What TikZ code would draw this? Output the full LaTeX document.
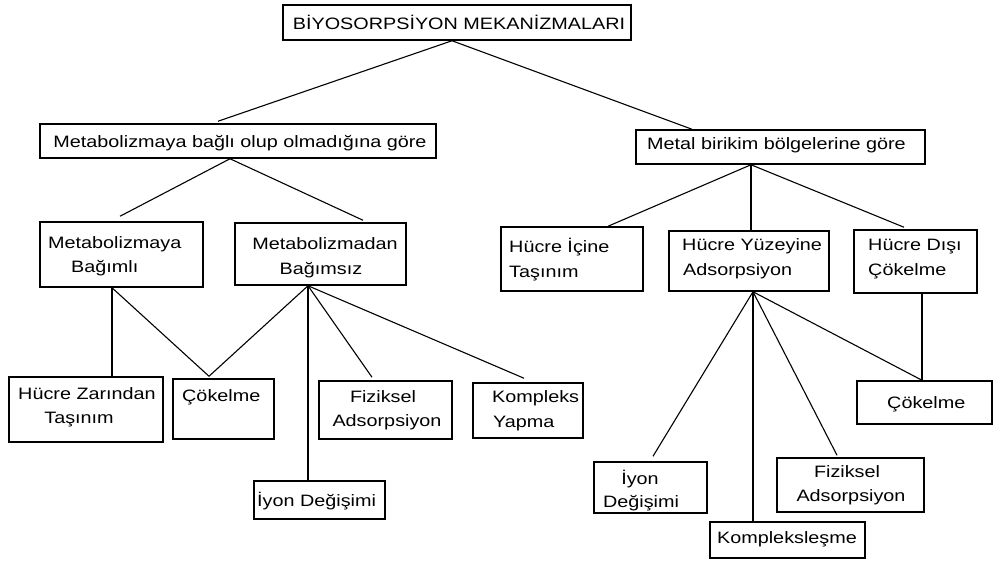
\documentclass[tikz,border=0pt]{standalone}
\usepackage{fontspec}
\setmainfont{Liberation Sans}[FakeStretch=1.2]
\usetikzlibrary{calc}
\begin{document}
\begin{tikzpicture}[x=1pt,y=-1pt,
  box/.style={draw, line width=1.5pt, inner sep=0pt, fill=none},
  txt/.style={inner sep=0pt, font=\fontsize{16.5}{19}\selectfont},
  conn/.style={line width=1.1pt}]
\useasboundingbox[fill=white] (0,0) rectangle (993,563);

% boxes
\node[box, minimum width=348pt, minimum height=35pt] (top) at (457,22.5) {};
\node[box, minimum width=396pt, minimum height=34pt] (lm) at (238,141) {};
\node[box, minimum width=289pt, minimum height=34pt] (rm) at (780.5,147) {};
\node[box, minimum width=163pt, minimum height=65pt] (bagimli) at (121.5,254.5) {};
\node[box, minimum width=171pt, minimum height=62pt] (bagimsiz) at (320.5,254) {};
\node[box, minimum width=154pt, minimum height=65pt] (hzt) at (86,409.5) {};
\node[box, minimum width=101pt, minimum height=60pt] (cok1) at (223.5,409) {};
\node[box, minimum width=133pt, minimum height=58pt] (fiz1) at (385.5,410) {};
\node[box, minimum width=131pt, minimum height=38pt] (iyon1) at (319.5,500) {};
\node[box, minimum width=110pt, minimum height=55pt] (kyap) at (528,410.5) {};
\node[box, minimum width=142pt, minimum height=64pt] (hit) at (572,259) {};
\node[box, minimum width=160pt, minimum height=60pt] (hya) at (749,261) {};
\node[box, minimum width=123pt, minimum height=63pt] (hdc) at (915.5,261.5) {};
\node[box, minimum width=113pt, minimum height=51pt] (iyon2) at (650.5,487.5) {};
\node[box, minimum width=155pt, minimum height=36pt] (komp) at (787.5,540) {};
\node[box, minimum width=147pt, minimum height=54pt] (fiz2) at (850.5,485) {};
\node[box, minimum width=135pt, minimum height=43pt] (cok2) at (924.5,402.5) {};

% texts
\node[txt, anchor=base] (t0) at (459,29) {BİYOSORPSİYON MEKANİZMALARI};
\node[txt, anchor=base] (t1) at (240,147) {Metabolizmaya bağlı olup olmadığına göre};
\node[txt, anchor=base west] (t2) at (647,149) {Metal birikim bölgelerine göre};
\node[txt, anchor=base west] (t3a) at (48,248) {Metabolizmaya};
\node[txt, anchor=base west] (t3b) at (71,272) {Bağımlı};
\node[txt, anchor=base] (t4a) at (325,249) {Metabolizmadan};
\node[txt, anchor=base] (t4b) at (321,274) {Bağımsız};
\node[txt, anchor=base] (t5a) at (87,399) {Hücre Zarından};
\node[txt, anchor=base] (t5b) at (79,423) {Taşınım};
\node[txt, anchor=base west] (t6) at (182,401) {Çökelme};
\node[txt, anchor=base] (t7a) at (383,402) {Fiziksel};
\node[txt, anchor=base] (t7b) at (387,426) {Adsorpsiyon};
\node[txt, anchor=base west] (t8) at (257,506) {İyon Değişimi};
\node[txt, anchor=base west] (t9a) at (492,402) {Kompleks};
\node[txt, anchor=base west] (t9b) at (493,427) {Yapma};
\node[txt, anchor=base west] (t10a) at (509,252) {Hücre İçine};
\node[txt, anchor=base west] (t10b) at (509,277) {Taşınım};
\node[txt, anchor=base west] (t11a) at (682,250) {Hücre Yüzeyine};
\node[txt, anchor=base west] (t11b) at (683,275) {Adsorpsiyon};
\node[txt, anchor=base west] (t12a) at (868,250) {Hücre Dışı};
\node[txt, anchor=base west] (t12b) at (868,275) {Çökelme};
\node[txt, anchor=base] (t13a) at (640,484) {İyon};
\node[txt, anchor=base] (t13b) at (641,507) {Değişimi};
\node[txt, anchor=base] (t14) at (787,543) {Kompleksleşme};
\node[txt, anchor=base] (t15a) at (847,477) {Fiziksel};
\node[txt, anchor=base] (t15b) at (851,501) {Adsorpsiyon};
\node[txt, anchor=base west] (t16) at (887,408) {Çökelme};

% connectors
\draw[conn] ([xshift=-5pt]top.south) -- ([xshift=-20pt,yshift=2pt]lm.north);
\draw[conn] ([xshift=-5pt]top.south) -- ([xshift=-88.5pt]rm.north);

\draw[conn] ([xshift=-8pt]lm.south) -- ([xshift=-1.5pt,yshift=5pt]bagimli.north);
\draw[conn] ([xshift=-8pt]lm.south) -- ([xshift=42.5pt,yshift=2pt]bagimsiz.north);

\draw[conn] ([xshift=-9.5pt]bagimli.south) -- ([xshift=26pt]hzt.north);
\draw[conn] ([xshift=-9.5pt]bagimli.south) -- ([xshift=-14.5pt,yshift=2pt]cok1.north);
\draw[conn] ([xshift=-12.5pt]bagimsiz.south) -- ([xshift=-14.5pt,yshift=2pt]cok1.north);
\draw[conn] ([xshift=-12.5pt]bagimsiz.south) -- ([xshift=-11.5pt]iyon1.north);
\draw[conn] ([xshift=-12.5pt]bagimsiz.south) -- ([xshift=-13.5pt,yshift=3pt]fiz1.north);
\draw[conn] ([xshift=-12.5pt]bagimsiz.south) -- ([xshift=-4pt,yshift=4pt]kyap.north);

\draw[conn] ([xshift=-29.5pt]rm.south) -- ([xshift=36pt]hit.north);
\draw[conn] ([xshift=-29.5pt]rm.south) -- ([xshift=2pt]hya.north);
\draw[conn] ([xshift=-29.5pt]rm.south) -- ([xshift=-11.5pt,yshift=2pt]hdc.north);

\draw[conn] ([xshift=4pt]hya.south) -- ([xshift=2.5pt,yshift=5pt]iyon2.north);
\draw[conn] ([xshift=4pt]hya.south) -- ([xshift=-34.5pt]komp.north);
\draw[conn] ([xshift=4pt]hya.south) -- ([xshift=-13.5pt,yshift=2pt]fiz2.north);
\draw[conn] ([xshift=4pt]hya.south) -- ([xshift=-2.5pt]cok2.north);
\draw[conn] ([xshift=6.5pt]hdc.south) -- ([xshift=-2.5pt]cok2.north);
\end{tikzpicture}
\end{document}
